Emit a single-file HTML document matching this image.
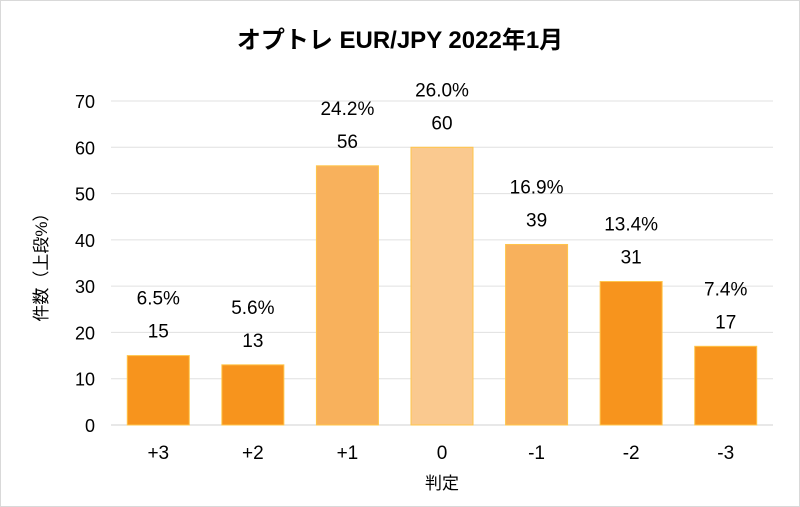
<!DOCTYPE html>
<html><head><meta charset="utf-8"><style>
html,body{margin:0;padding:0;background:#fff}
svg{display:block;font-family:"Liberation Sans","Noto Sans CJK JP",sans-serif}
</style></head><body>
<svg id="chart" width="800" height="507">
<rect x="0.5" y="0.5" width="799" height="506" fill="#fff" stroke="#d9d9d9"/>
<text x="400" y="48" text-anchor="middle" font-size="24" font-weight="bold" fill="#000">オプトレ EUR/JPY 2022年1月</text>
<text transform="translate(47,263) rotate(-90)" text-anchor="middle" font-size="17" fill="#000">件数（上段%）</text>
<text x="442" y="489" text-anchor="middle" font-size="17" fill="#000">判定</text>
<g id="grid"></g><g id="bars"></g><g id="labels"></g>
</svg>
<script>
const categories = ["+3","+2","+1","0","-1","-2","-3"];
const counts = [15,13,56,60,39,31,17];
const percents = ["6.5%","5.6%","24.2%","26.0%","16.9%","13.4%","7.4%"];
const yTicks = [0,10,20,30,40,50,60,70];
const barColors = ["#F7941D","#F7941D","#F8B15C","#FAC98F","#F8B15C","#F7941D","#F7941D"];
const NS="http://www.w3.org/2000/svg";
const x0=111,x1=773,y0=425,yTop=101,yMax=70;
const y=v=>y0-(v/yMax)*(y0-yTop);
const band=(x1-x0)/categories.length;
const xc=i=>x0+band*(i+0.5);
function mk(t,a,p){const e=document.createElementNS(NS,t);for(const k in a)e.setAttribute(k,a[k]);p.appendChild(e);return e;}
const grid=document.getElementById('grid'),bars=document.getElementById('bars'),labels=document.getElementById('labels');
yTicks.forEach(t=>{
  const l=mk('line',{x1:x0,x2:x1,y1:y(t),y2:y(t),stroke:t===0?'#d0d0d0':'#e0e0e0','stroke-width':1},grid);
  
  
  const tx=mk('text',{x:95,y:y(t)+7,'text-anchor':'end','font-size':18,fill:'#000'},grid);
  tx.textContent=t;
  
  
});
categories.forEach((c,i)=>{
  const w=62,v=counts[i];
  const r=mk('rect',{x:xc(i)-w/2,y:y(v),width:w,height:y0-y(v),fill:barColors[i],stroke:'#FFC54A','stroke-width':1},bars);
  
  
  const vl=mk('text',{x:xc(i),y:y(v)-18,'text-anchor':'middle','font-size':19,fill:'#000'},labels);
  vl.textContent=v;
  
  
  const pl=mk('text',{x:xc(i),y:y(v)-51,'text-anchor':'middle','font-size':19,fill:'#000'},labels);
  pl.textContent=percents[i];
  
  
  const xl=mk('text',{x:xc(i),y:459,'text-anchor':'middle','font-size':19,fill:'#000'},labels);
  xl.textContent=c;
  
  
});
</script>
</body></html>
